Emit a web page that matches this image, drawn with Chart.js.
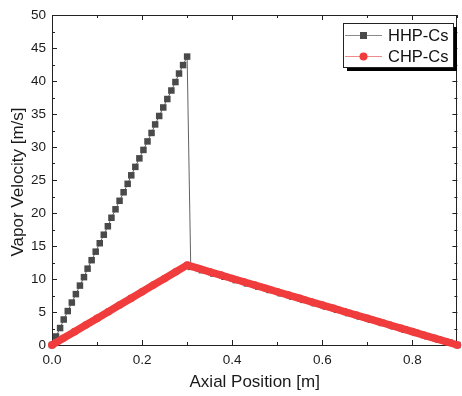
<!DOCTYPE html>
<html>
<head>
<meta charset="utf-8">
<script src="https://cdn.jsdelivr.net/npm/chart.js@4/dist/chart.umd.min.js"></script>
<style>
  html, body { margin: 0; padding: 0; background: #fff; }
  #wrap { width: 462px; height: 396px; }
</style>
</head>
<body>
<div id="wrap"><canvas id="velChart"></canvas></div>
<script>
// HHP-Cs: steep rise to the adiabatic end, then drop and linear decline
const hhpX = [0, 0.009, 0.018, 0.026, 0.035, 0.044, 0.053, 0.062, 0.071, 0.079, 0.088, 0.097,
  0.106, 0.115, 0.124, 0.132, 0.141, 0.15, 0.159, 0.168, 0.176, 0.185, 0.194, 0.203, 0.212,
  0.221, 0.229, 0.238, 0.247, 0.256, 0.265, 0.274, 0.282, 0.291, 0.3,
  0.308, 0.333, 0.358, 0.383, 0.408, 0.433, 0.458, 0.483, 0.508, 0.533, 0.558, 0.583, 0.608,
  0.633, 0.658, 0.683, 0.708, 0.733, 0.758, 0.783, 0.808, 0.833, 0.858, 0.883, 0.9];
const hhpY = [0, 1.29, 2.57, 3.86, 5.14, 6.43, 7.71, 9.0, 10.28, 11.57, 12.85, 14.14,
  15.42, 16.71, 17.99, 19.28, 20.56, 21.85, 23.14, 24.42, 25.71, 26.99, 28.28, 29.56, 30.85,
  32.13, 33.42, 34.7, 35.99, 37.27, 38.56, 39.84, 41.13, 42.41, 43.7,
  11.84, 11.34, 10.84, 10.34, 9.84, 9.34, 8.84, 8.34, 7.84, 7.34, 6.84, 6.34, 5.84,
  5.34, 4.84, 4.34, 3.84, 3.34, 2.84, 2.34, 1.84, 1.34, 0.84, 0.34, 0];

// CHP-Cs: rise to 12.1 at 0.3 m then linear decline
const chpX = [0, 0.025, 0.05, 0.075, 0.1, 0.125, 0.15, 0.175, 0.2, 0.225, 0.25, 0.275, 0.3,
  0.325, 0.35, 0.375, 0.4, 0.425, 0.45, 0.475, 0.5, 0.525, 0.55, 0.575, 0.6, 0.625, 0.65,
  0.675, 0.7, 0.725, 0.75, 0.775, 0.8, 0.825, 0.85, 0.875, 0.9];
const chpY = [0, 1.01, 2.02, 3.03, 4.03, 5.04, 6.05, 7.06, 8.07, 9.08, 10.08, 11.09, 12.1,
  11.6, 11.09, 10.59, 10.08, 9.58, 9.08, 8.57, 8.07, 7.56, 7.06, 6.55, 6.05, 5.55, 5.04,
  4.54, 4.03, 3.53, 3.03, 2.52, 2.02, 1.51, 1.01, 0.5, 0];

const seriesNames = ["HHP-Cs", "CHP-Cs"];
const xTickVals = [0, 0.2, 0.4, 0.6, 0.8];
const yTitle = "Vapor Velocity [m/s]";

const FONT = "Arial, 'Liberation Sans', sans-serif";
const hhpColor = "#4a4a4a";
const chpColor = "#f03c3c";

function toPoints(xs, ys) {
  return xs.map((x, i) => ({x: x, y: ys[i]}));
}

// frame + inward ticks on all four sides, plus the y title
const framePlugin = {
  id: "frame",
  beforeDatasetsDraw(chart) {
    const {ctx, chartArea: a, scales} = chart;
    const xs = scales.x, ys = scales.y;
    ctx.save();
    ctx.strokeStyle = "#222";
    ctx.lineWidth = 1;
    ctx.strokeRect(Math.round(a.left) + 0.5, Math.round(a.top) + 0.5,
      Math.round(a.right - a.left) - 1, Math.round(a.bottom - a.top));
    ctx.beginPath();
    for (let i = 0; i <= 9; i++) {
      const v = i / 10;
      const len = i % 2 === 0 ? 5 : 3;
      const px = Math.round(xs.getPixelForValue(v)) + 0.5;
      ctx.moveTo(px, a.bottom); ctx.lineTo(px, a.bottom - len);
      ctx.moveTo(px, a.top); ctx.lineTo(px, a.top + len);
    }
    for (let i = 0; i <= 20; i++) {
      const v = i * 2.5;
      const len = i % 2 === 0 ? 5 : 3;
      const py = Math.round(ys.getPixelForValue(v)) + 0.5;
      ctx.moveTo(a.left, py); ctx.lineTo(a.left + len, py);
      ctx.moveTo(a.right, py); ctx.lineTo(a.right - len, py);
    }
    ctx.stroke();

    // rotated y axis title
    ctx.translate(18, 182);
    ctx.rotate(-Math.PI / 2);
    ctx.fillStyle = "#1a1a1a";
    ctx.font = "17px " + FONT;
    ctx.textAlign = "center";
    ctx.textBaseline = "middle";
    ctx.fillText(yTitle, 0, 0);
    ctx.restore();
  }
};

// Origin-style legend box with shadow
const legendPlugin = {
  id: "boxLegend",
  afterDraw(chart) {
    const ctx = chart.ctx;
    const bx = 343, by = 23, bw = 110, bh = 44;
    ctx.save();
    ctx.fillStyle = "#000";
    ctx.fillRect(bx + 4, by + 4, bw, bh);
    ctx.fillStyle = "#fff";
    ctx.fillRect(bx, by, bw, bh);
    ctx.strokeStyle = "#222";
    ctx.lineWidth = 1;
    ctx.strokeRect(bx + 0.5, by + 0.5, bw, bh);
    const rows = [
      {y: by + 12, line: "#8a8a8a", fill: hhpColor, shape: "rect"},
      {y: by + 33, line: "#f08a8a", fill: chpColor, shape: "circle"}
    ];
    rows.forEach((r, i) => {
      ctx.strokeStyle = r.line;
      ctx.beginPath();
      ctx.moveTo(bx + 2, r.y + 0.5);
      ctx.lineTo(bx + 39, r.y + 0.5);
      ctx.stroke();
      ctx.fillStyle = r.fill;
      if (r.shape === "rect") {
        ctx.fillRect(bx + 17, r.y - 3, 7, 7);
      } else {
        ctx.beginPath();
        ctx.arc(bx + 20.5, r.y + 0.5, 4, 0, Math.PI * 2);
        ctx.fill();
      }
      ctx.fillStyle = "#111";
      ctx.font = "16.5px " + FONT;
      ctx.textBaseline = "middle";
      ctx.fillText(seriesNames[i], bx + 45, r.y + 1);
    });
    ctx.restore();
  }
};

const ctx = document.getElementById("velChart");
new Chart(ctx, {
  type: "scatter",
  data: {
    datasets: [
      {
        label: seriesNames[0],
        data: toPoints(hhpX, hhpY),
        showLine: true,
        borderColor: "rgba(70,70,70,0.85)",
        borderWidth: 1,
        pointStyle: "rect",
        pointRadius: 4.6,
        pointBackgroundColor: hhpColor,
        pointBorderWidth: 0,
        clip: false,
        order: 2
      },
      {
        label: seriesNames[1],
        data: toPoints(chpX, chpY),
        showLine: true,
        borderColor: chpColor,
        borderWidth: 7.5,
        borderCapStyle: "round",
        borderJoinStyle: "round",
        pointStyle: "circle",
        pointRadius: 3.8,
        pointBackgroundColor: chpColor,
        pointBorderWidth: 0,
        clip: false,
        order: 1
      }
    ]
  },
  options: {
    responsive: true,
    maintainAspectRatio: false,
    animation: false,
    layout: {padding: {top: 15, right: 1, left: 0, bottom: 0}},
    plugins: {
      legend: {display: false},
      tooltip: {enabled: false}
    },
    scales: {
      x: {
        type: "linear",
        min: 0,
        max: 0.9,
        grid: {display: false, drawTicks: false},
        border: {display: false},
        afterBuildTicks: (scale) => { scale.ticks = xTickVals.map(v => ({value: v})); },
        afterFit: (scale) => { scale.height = 51; },
        ticks: {
          callback: (v) => Number(v).toFixed(1),
          color: "#1a1a1a",
          font: {family: FONT, size: 13.5},
          padding: 7,
          maxRotation: 0
        },
        title: {
          display: true,
          text: "Axial Position [m]",
          color: "#1a1a1a",
          font: {family: FONT, size: 17},
          padding: {top: 0, bottom: 3}
        }
      },
      y: {
        type: "linear",
        min: 0,
        max: 50,
        grid: {display: false, drawTicks: false},
        border: {display: false},
        afterFit: (scale) => { scale.width = 52; },
        ticks: {
          stepSize: 5,
          color: "#1a1a1a",
          font: {family: FONT, size: 13.5},
          padding: 6
        },
        title: {display: false}
      }
    }
  },
  plugins: [framePlugin, legendPlugin]
});
</script>
</body>
</html>
